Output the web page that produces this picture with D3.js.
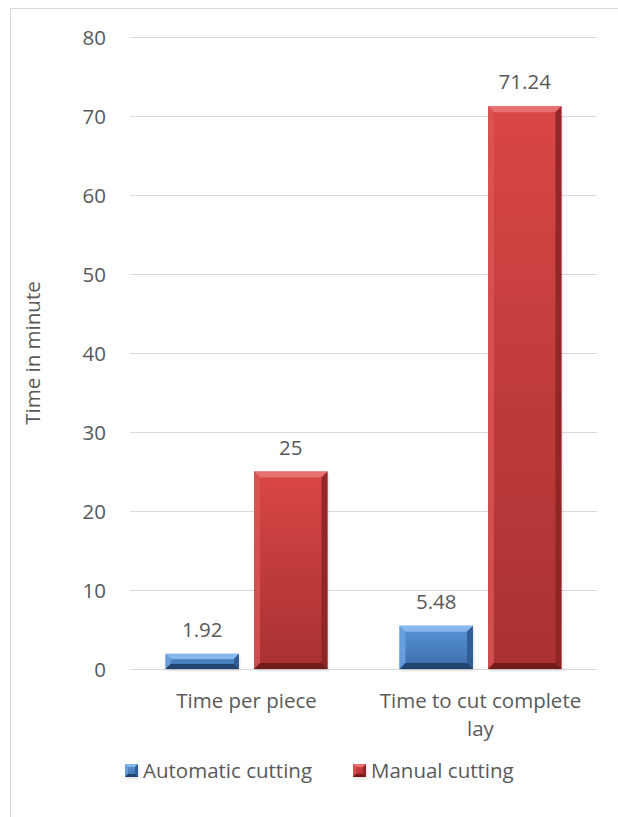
<!DOCTYPE html>
<html>
<head>
<meta charset="utf-8">
<script src="https://cdn.jsdelivr.net/npm/d3@7"></script>
<style>
  html, body { margin: 0; padding: 0; background: #fff; }
  svg { display: block; }
  text { font-family: "Open Sans", "Noto Sans", sans-serif; fill: #595959; }
</style>
</head>
<body>
<svg id="chart" width="618" height="817"></svg>
<script>
// Cutting time comparison, in minutes
const categories = ["Time per piece", "Time to cut complete lay"];
const seriesNames = ["Automatic cutting", "Manual cutting"];
const automatic = [1.92, 5.48];
const manual = [25, 71.24];
const yTicks = [0, 10, 20, 30, 40, 50, 60, 70, 80];

const W = 618, H = 817;
const FS = 20.5;
const svg = d3.select("#chart");
const defs = svg.append("defs");

const palettes = {
  "Automatic cutting": { top: "#5b95d6", bottom: "#3a6dac", light: "#8dbdf0", side: "#6ea5e2", dark: "#2e5a90", darker: "#1f3f68" },
  "Manual cutting":    { top: "#d94646", bottom: "#a83131", light: "#e87676", side: "#db5555", dark: "#8c2525", darker: "#6a1a1a" }
};

seriesNames.forEach((s, i) => {
  const p = palettes[s];
  const g = defs.append("linearGradient").attr("id", "face" + i)
    .attr("x1", 0).attr("y1", 0).attr("x2", 0).attr("y2", 1);
  g.append("stop").attr("offset", "0%").attr("stop-color", p.top);
  g.append("stop").attr("offset", "100%").attr("stop-color", p.bottom);
});

const blur = defs.append("filter").attr("id", "shadowBlur").attr("x", "-20%").attr("y", "-20%")
  .attr("width", "140%").attr("height", "140%");
blur.append("feGaussianBlur").attr("stdDeviation", 1.5);

// Chart frame
svg.append("rect").attr("x", 10.5).attr("y", 8.5).attr("width", W).attr("height", H)
  .attr("fill", "none").attr("stroke", "#d9d9d9").attr("stroke-width", 1);

const plot = { left: 130, right: 597, top: 37, bottom: 669 };

const y = d3.scaleLinear().domain([0, 80]).range([plot.bottom, plot.top]);
const x0 = d3.scaleBand().domain(categories).range([plot.left, plot.right]).paddingInner(0.308).paddingOuter(0.152);
const x1 = d3.scaleBand().domain(seriesNames).range([0, x0.bandwidth()]).paddingInner(0.17);

// Gridlines
svg.append("g").selectAll("line").data(yTicks).join("line")
  .attr("x1", plot.left).attr("x2", plot.right)
  .attr("y1", d => Math.round(y(d)) + 0.5).attr("y2", d => Math.round(y(d)) + 0.5)
  .attr("stroke", "#d9d9d9").attr("stroke-width", 1);

// Y axis tick labels
const yAxis = d3.axisLeft(y).tickValues(yTicks).tickSize(0).tickPadding(0);
const ya = svg.append("g").attr("transform", `translate(106,0)`).call(yAxis);
ya.select(".domain").remove();
ya.selectAll("text").attr("font-size", FS).attr("fill", "#595959")
  .style("font-family", "'Open Sans', sans-serif").attr("dy", "0.35em");

// Y axis title
svg.append("text").attr("transform", `translate(33,${(plot.top + plot.bottom) / 2}) rotate(-90)`)
  .attr("text-anchor", "middle").attr("dy", "0.35em").attr("font-size", FS).text("Time in minute");

// Beveled bar
function bevelBar(g, bx0, by0, bx1, by1, si, bevel) {
  const p = palettes[seriesNames[si]];
  const h = by1 - by0;
  const b = Math.min(bevel, h / 3);
  g.append("rect").attr("x", bx0 + 1).attr("y", by0 + 2).attr("width", bx1 - bx0).attr("height", h)
    .attr("fill", "#000").attr("opacity", 0.12).attr("filter", "url(#shadowBlur)");
  g.append("rect").attr("x", bx0).attr("y", by0).attr("width", bx1 - bx0).attr("height", h)
    .attr("fill", `url(#face${si})`);
  const poly = (pts, fill, op) => g.append("polygon")
    .attr("points", pts.map(q => q.join(",")).join(" ")).attr("fill", fill).attr("opacity", op);
  poly([[bx0, by0], [bx1, by0], [bx1 - b, by0 + b], [bx0 + b, by0 + b]], p.light, 0.9);
  poly([[bx0, by0], [bx0 + b, by0 + b], [bx0 + b, by1 - b], [bx0, by1]], p.side, 0.8);
  poly([[bx1, by0], [bx1, by1], [bx1 - b, by1 - b], [bx1 - b, by0 + b]], p.dark, 0.9);
  poly([[bx0, by1], [bx1, by1], [bx1 - b, by1 - b], [bx0 + b, by1 - b]], p.darker, 0.9);
}

const seriesValues = [automatic, manual];
const barsG = svg.append("g");
const labelsG = svg.append("g");
categories.forEach((c, ci) => {
  seriesNames.forEach((s, si) => {
    const v = seriesValues[si][ci];
    const bx = x0(c) + x1(s);
    const bw = x1.bandwidth();
    const top = y(v);
    bevelBar(barsG, bx, top, bx + bw, y(0), si, 6);
    labelsG.append("text").attr("x", bx + bw / 2).attr("y", top - 17)
      .attr("text-anchor", "middle").attr("font-size", FS).attr("fill", "#404040").text(v);
  });
});

// Category labels (wrapped)
const catLines = { "Time per piece": ["Time per piece"], "Time to cut complete lay": ["Time to cut complete", "lay"] };
categories.forEach(c => {
  const cx = x0(c) + x0.bandwidth() / 2;
  const t = svg.append("text").attr("x", cx).attr("y", 708)
    .attr("text-anchor", "middle").attr("font-size", FS);
  catLines[c].forEach((ln, i) => t.append("tspan").attr("x", cx)
    .attr("dy", i === 0 ? 0 : 28).text(ln));
});

// Legend
const legendPos = [{ x: 125, tx: 143 }, { x: 353, tx: 371 }];
seriesNames.forEach((s, si) => {
  const g = svg.append("g");
  bevelBar(g, legendPos[si].x, 764, legendPos[si].x + 13, 777, si, 3);
  g.append("text").attr("x", legendPos[si].tx).attr("y", 778).attr("font-size", FS).text(s);
});
</script>
</body>
</html>
